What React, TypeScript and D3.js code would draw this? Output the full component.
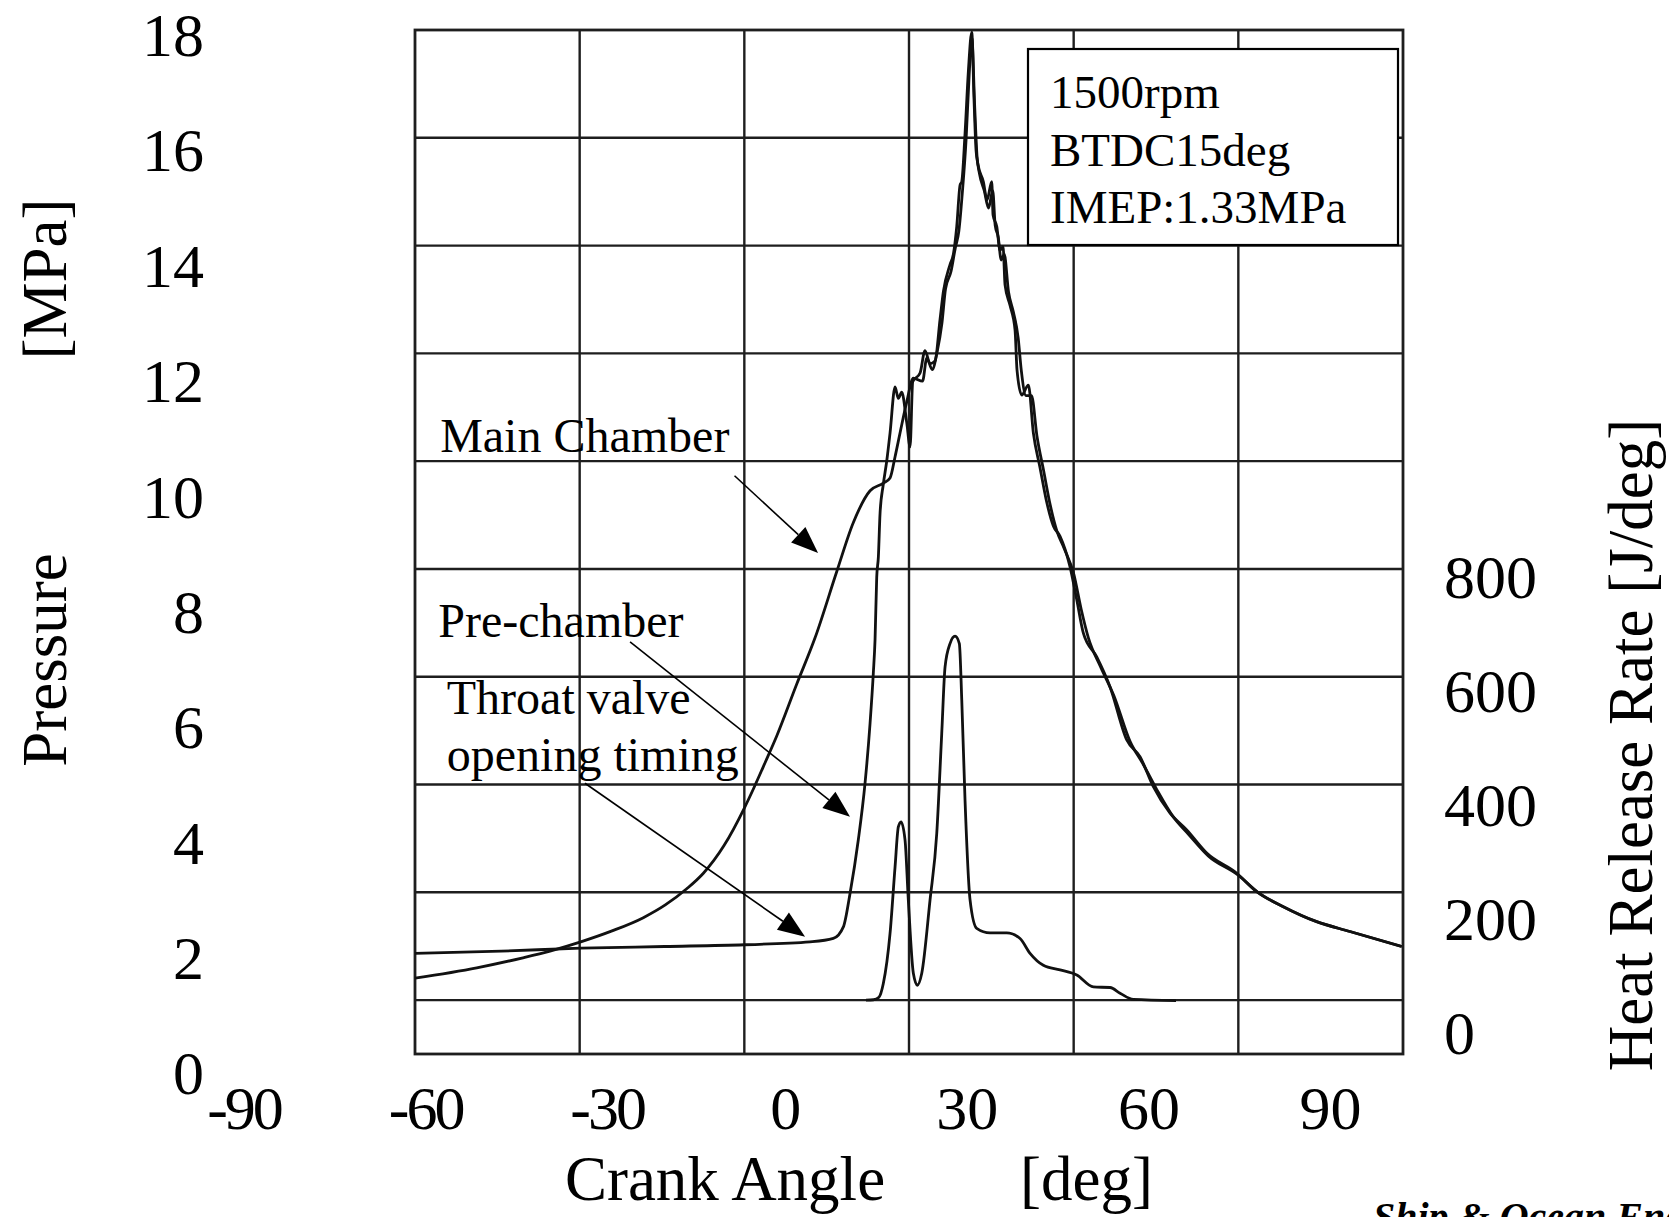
import * as d3 from 'd3'

// crank angle [deg], pressure [MPa] / heat release rate [J/deg]
const crankTicks = [-90, -60, -30, 0, 30, 60, 90]
const pressureTicks = [0, 2, 4, 6, 8, 10, 12, 14, 16, 18]
const heatTicks = [0, 200, 400, 600, 800]

const mainChamber: [number, number][] = [
  [-61.24, 1.65], [-51.05, 1.83], [-43.6, 2.0], [-38.94, 2.12], [-33.87, 2.28],
  [-28.7, 2.47], [-23.53, 2.7], [-19.9, 2.92], [-16.36, 3.2], [-13.61, 3.47],
  [-10.2, 3.95], [-6.84, 4.6], [-5.35, 4.93], [-3.4, 5.39], [-1.49, 5.85],
  [1.82, 6.75], [4.84, 7.55], [8.43, 8.7], [11.17, 9.55], [13.93, 10.1],
  [16.12, 10.23], [17.23, 10.32], [18.06, 10.69], [18.88, 11.1], [19.99, 11.64],
  [21.08, 12.05], [22.6, 12.0], [23.3, 12.4], [24.2, 12.2], [25.0, 12.5],
  [25.8, 13.0], [26.4, 13.6], [27.3, 13.9], [28.0, 14.3], [28.6, 14.6],
  [29.2, 15.3], [29.8, 16.2], [30.3, 17.3], [30.75, 17.95], [31.2, 16.8],
  [31.6, 15.9], [32.0, 15.6], [32.8, 15.3], [33.5, 15.0], [34.2, 15.3],
  [34.6, 14.7], [35.1, 14.5], [35.6, 14.1], [36.1, 14.2], [36.8, 13.55],
  [37.6, 13.2], [38.4, 12.75], [38.9, 12.2], [39.7, 11.75], [40.6, 11.75],
  [41.5, 11.05], [42.6, 10.45], [43.7, 9.85], [44.8, 9.4], [46.0, 9.1],
  [47.6, 8.65], [48.8, 8.05], [50.0, 7.55], [52.0, 7.05], [54.2, 6.55],
  [56.9, 5.75], [59.1, 5.35], [61.3, 4.92], [64.0, 4.45], [66.5, 4.15],
  [69.8, 3.77], [74.7, 3.44], [78.0, 3.14], [82.2, 2.89], [87.7, 2.63],
  [93.2, 2.46], [101.77, 2.2],
]

const preChamber: [number, number][] = [
  [-61.24, 2.08], [-47, 2.12], [-33.87, 2.17], [-20, 2.2], [-6.84, 2.23],
  [3.99, 2.28], [7.86, 2.34], [9.52, 2.54], [10.62, 3.12], [11.99, 4.05],
  [13.1, 5.03], [13.93, 6.07], [14.47, 6.94], [14.75, 7.51], [15.03, 8.6],
  [15.3, 8.95], [15.58, 9.71], [16.1, 10.2], [16.69, 10.62], [17.23, 11.1],
  [18.06, 11.9], [18.6, 11.7], [19.16, 11.81], [19.99, 11.28], [20.54, 10.86],
  [20.98, 11.99], [22.19, 12.14], [23.01, 12.53], [23.84, 12.3], [24.67, 12.35],
  [25.49, 13.07], [26.04, 13.55], [27.14, 14.02], [27.69, 14.2], [28.25, 14.68],
  [28.8, 15.4], [29.08, 15.46], [29.62, 16.29], [30.17, 17.37], [30.73, 18.05],
  [31.11, 16.87], [31.44, 16.0], [31.77, 15.75], [32.64, 15.46], [33.26, 15.14],
  [34.03, 15.46], [34.25, 14.88], [34.86, 14.68], [35.4, 14.27], [35.9, 14.33],
  [36.23, 13.67], [37.06, 13.31], [37.88, 12.89], [38.21, 12.19], [38.99, 11.76],
  [40.08, 11.93], [40.91, 11.1], [42.01, 10.5], [43.12, 9.9], [44.21, 9.49],
  [45.32, 9.31], [46.97, 8.78], [48.08, 8.21], [49.17, 7.63], [51.38, 7.22],
  [53.58, 6.7], [56.34, 5.78], [58.53, 5.49], [60.73, 4.97], [63.49, 4.51],
  [66.25, 4.22], [69.55, 3.82], [74.51, 3.47], [77.81, 3.15], [82.21, 2.89],
  [87.72, 2.63], [93.22, 2.46], [101.77, 2.2],
]

const heatRelease: [number, number][] = [
  [13.25, 57], [14.5, 57.5], [15.4, 62], [16.12, 86], [17.23, 174],
  [18.06, 291], [18.6, 361], [19.05, 370], [19.71, 338], [20.25, 233],
  [21.08, 104], [21.74, 83], [22.47, 104], [23.84, 233], [24.95, 350],
  [25.77, 525], [26.32, 642], [27.14, 683], [27.97, 696], [28.68, 683],
  [29.08, 584], [29.62, 408], [30.45, 233], [31.55, 183], [33.75, 175],
  [36.51, 175], [38.71, 165], [40.36, 139], [42.56, 118], [45.32, 110],
  [48.08, 101], [50.82, 80], [53.58, 79], [55.23, 69], [57.43, 58],
  [64.48, 56],
]

const conditions = ['1500rpm', 'BTDC15deg', 'IMEP:1.33MPa']

// annotation text, anchored in crank angle / pressure units
const notes = [
  { text: 'Main Chamber', angle: -57.1, p: 10.78 },
  { text: 'Pre-chamber', angle: -57.4, p: 7.57 },
  { text: 'Throat valve', angle: -56.0, p: 6.23 },
  { text: 'opening timing', angle: -56.0, p: 5.24 },
]

const arrows = [
  { from: [-8.46, 10.36], to: [5.34, 9.02] },
  { from: [-25.72, 7.48], to: [10.62, 4.45] },
  { from: [-33.17, 5.03], to: [3.19, 2.37] },
]

const width = 1669, height = 1217
const serif = '"Liberation Serif", "Times New Roman", serif'

const x = d3.scaleLinear().domain([-90, 90]).range([241, 1330.5])
const yP = d3.scaleLinear().domain([0, 18]).range([1073.4, 35])
const yH = d3.scaleLinear().domain([0, 800]).range([1032.5, 577])

// recorder grid frame: 6 columns, 9.5 rows
const gx = d3.scaleLinear().domain([0, 6]).range([415, 1403])
const gy = d3.scaleLinear().domain([0, 9.5]).range([1054, 30])

const pLine = d3.line<[number, number]>()
  .x(d => x(d[0]))
  .y(d => yP(d[1]))
  .curve(d3.curveMonotoneX)

const hLine = d3.line<[number, number]>()
  .x(d => x(d[0]))
  .y(d => yH(d[1]))
  .curve(d3.curveMonotoneX)

const arrowShape = (a: { from: number[], to: number[] }) => {
  const fx = x(a.from[0]), fy = yP(a.from[1])
  const tx = x(a.to[0]), ty = yP(a.to[1])
  const len = Math.hypot(tx - fx, ty - fy)
  const ux = (tx - fx) / len, uy = (ty - fy) / len
  const bx = tx - ux * 27, by = ty - uy * 27
  const nx = -uy * 10.5, ny = ux * 10.5
  return {
    line: [fx, fy, bx, by],
    head: `${tx},${ty} ${bx + nx},${by + ny} ${bx - nx},${by - ny}`,
  }
}

export default function App() {
  return (
    <svg
      width={width}
      height={height}
      style={{ position: 'absolute', left: 0, top: 0, background: '#fff' }}
      fontFamily={serif}
    >
      <rect width={width} height={height} fill="#fff" />

      {/* grid */}
      <g stroke="#1e1e1e" strokeWidth={2.4}>
        {d3.range(1, 6).map(i => (
          <line key={'v' + i} x1={gx(i)} x2={gx(i)} y1={gy(0)} y2={gy(9.5)} />
        ))}
        {d3.range(0.5, 9.5, 1).map(j => (
          <line key={'h' + j} x1={gx(0)} x2={gx(6)} y1={gy(j)} y2={gy(j)} />
        ))}
        <rect x={gx(0)} y={gy(9.5)} width={gx(6) - gx(0)} height={gy(0) - gy(9.5)}
          fill="none" strokeWidth={2.8} />
      </g>

      {/* curves */}
      <g fill="none" stroke="#111" strokeWidth={2.8} strokeLinejoin="round">
        <path d={pLine(mainChamber) ?? ''} />
        <path d={pLine(preChamber) ?? ''} />
        <path d={hLine(heatRelease) ?? ''} />
      </g>

      {/* conditions box */}
      <rect x={1028} y={49} width={370} height={196} fill="#fff" stroke="#000" strokeWidth={2.2} />
      <g fontSize={47} fill="#000">
        {conditions.map((t, i) => (
          <text key={t} x={1050} y={108 + i * 57.5}>{t}</text>
        ))}
      </g>

      {/* annotations */}
      <g fontSize={48} fill="#000">
        {notes.map(n => (
          <text key={n.text} x={x(n.angle)} y={yP(n.p)}>{n.text}</text>
        ))}
      </g>
      {arrows.map((a, i) => {
        const s = arrowShape(a)
        return (
          <g key={i}>
            <line x1={s.line[0]} y1={s.line[1]} x2={s.line[2]} y2={s.line[3]}
              stroke="#000" strokeWidth={1.6} />
            <polygon points={s.head} fill="#000" />
          </g>
        )
      })}

      {/* axes labels */}
      <g fontSize={62} fill="#000">
        {crankTicks.map(t => (
          <text key={t} x={x(t) + (t < 0 ? 3 : 0)} y={1129} textAnchor="middle"
            letterSpacing={t < 0 ? -3 : 0}>{t}</text>
        ))}
        {pressureTicks.map(t => (
          <text key={t} x={204} y={yP(t)} dy="0.34em" textAnchor="end">{t}</text>
        ))}
        {heatTicks.map(t => (
          <text key={t} x={1444} y={yH(t)} dy="0.34em" textAnchor="start">{t}</text>
        ))}
      </g>
      <g fontSize={63} fill="#000">
        <text x={725} y={1200} textAnchor="middle">Crank Angle</text>
        <text x={1020} y={1200}>[deg]</text>
        <text transform="translate(66,660) rotate(-90)" textAnchor="middle">Pressure</text>
        <text transform="translate(66,279) rotate(-90)" textAnchor="middle">[MPa]</text>
        <text transform="translate(1652,745) rotate(-90)" textAnchor="middle">
          Heat Release Rate [J/deg]
        </text>
      </g>
      <text x={1373} y={1230} fontSize={40} fontWeight="bold" fontStyle="italic" fill="#000">
        Ship &amp; Ocean Engineering
      </text>
    </svg>
  )
}
